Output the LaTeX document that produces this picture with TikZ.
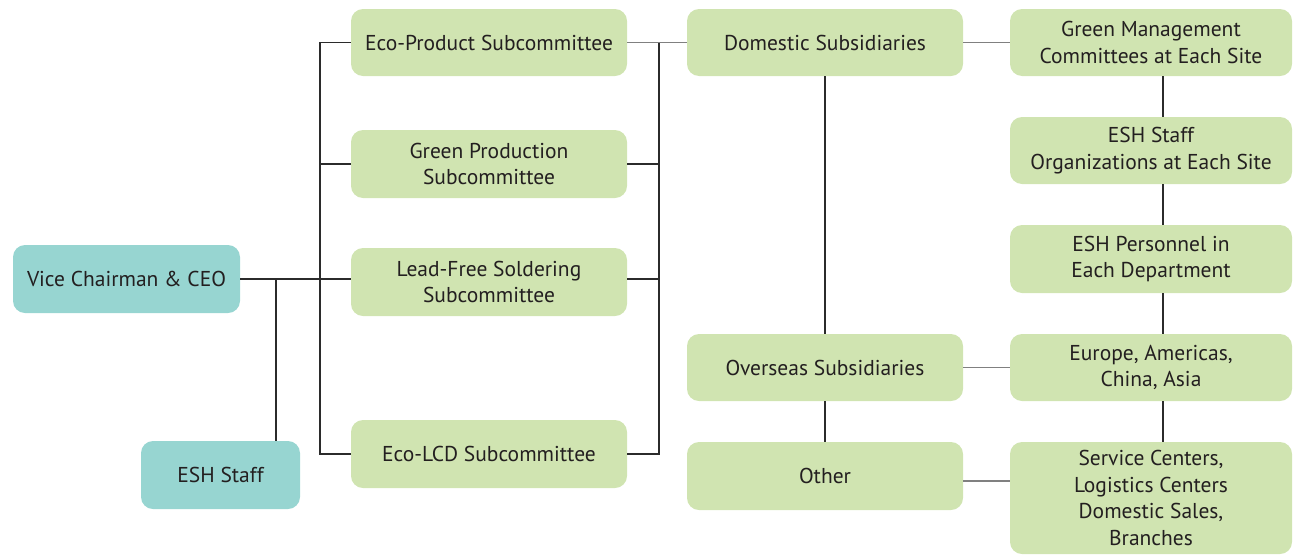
\documentclass[tikz,border=0pt]{standalone}
\usepackage{fontspec}
\setmainfont{PT Sans}
\definecolor{teal}{HTML}{97D5D1}
\definecolor{lgreen}{HTML}{D0E4B1}
\definecolor{txt}{HTML}{231F20}
\definecolor{ln}{HTML}{2B2B2B}
\definecolor{lg}{HTML}{808080}
\tikzset{
  box/.style={rounded corners=12pt, inner sep=2pt, align=center, text=txt,
    font=\fontsize{21.5}{26.5}\selectfont},
  gbox/.style={box, fill=lgreen},
  tbox/.style={box, fill=teal},
  conn/.style={draw=ln, line width=1.1pt},
  connl/.style={draw=lg, line width=1.3pt},
}
\begin{document}
\begin{tikzpicture}[x=1pt,y=-1pt]
\useasboundingbox (0,0) rectangle (1293,555);
% left
\node[tbox, minimum width=227pt, minimum height=68pt] (ceo) at (126.5,279) {Vice Chairman \& CEO};
\node[tbox, minimum width=159pt, minimum height=68pt] (eshs) at (220.5,475) {ESH Staff};
% subcommittees
\node[gbox, minimum width=276pt, minimum height=67pt] (eco) at (489,42.5) {Eco-Product Subcommittee};
\node[gbox, minimum width=276pt, minimum height=68pt] (gp) at (489,164) {Green Production\\Subcommittee};
\node[gbox, minimum width=276pt, minimum height=68pt] (lead) at (489,282) {Lead-Free Soldering\\Subcommittee};
\node[gbox, minimum width=276pt, minimum height=68pt] (lcd) at (489,454) {Eco-LCD Subcommittee};
% subsidiaries
\node[gbox, minimum width=276pt, minimum height=67pt] (dom) at (825,42.5) {Domestic Subsidiaries};
\node[gbox, minimum width=276pt, minimum height=67pt] (ovs) at (825,367.5) {Overseas Subsidiaries};
\node[gbox, minimum width=276pt, minimum height=68pt] (oth) at (825,476) {Other};
% right column
\node[gbox, minimum width=282pt, minimum height=67pt] (gmc) at (1151,42.5) {Green Management\\Committees at Each Site};
\node[gbox, minimum width=282pt, minimum height=67pt] (eso) at (1151,150.5) {ESH Staff\\Organizations at Each Site};
\node[gbox, minimum width=282pt, minimum height=68pt] (esp) at (1151,259) {ESH Personnel in\\Each Department};
\node[gbox, minimum width=282pt, minimum height=67pt] (eur) at (1151,367.5) {Europe, Americas,\\China, Asia};
\node[gbox, minimum width=282pt, minimum height=112pt] (svc) at (1151,498) {Service Centers,\\Logistics Centers\\Domestic Sales,\\Branches};
% connector coordinates
\coordinate (j1) at (276,279);
\coordinate (bl) at (320,279);
\coordinate (br) at (659,279);
\coordinate (cr) at (1163,0);
% CEO links
\draw[conn] (ceo.east |- j1) -- (lead.west |- j1);
\draw[conn] (j1) -- (j1 |- eshs.north);
% left bus
\draw[conn] (eco.west) -- (eco.west -| bl) -- (lcd.west -| bl) -- (lcd.west);
\draw[conn] (gp.west) -- (gp.west -| bl);
% right bus
\draw[connl] (eco.east) -- (dom.west);
\draw[conn] (eco.east -| br) -- (lcd.east -| br) -- (lcd.east);
\draw[conn] (gp.east) -- (gp.east -| br);
\draw[conn] (lead.east |- j1) -- (br);
% subsidiaries vertical
\draw[conn] (dom.south) -- (ovs.north);
\draw[conn] (ovs.south) -- (oth.north);
% to right column
\draw[connl] (dom.east) -- (gmc.west);
\draw[connl] (ovs.east) -- (eur.west);
\coordinate (oy) at (963,481);
\draw[connl] (oy) -- (oy -| svc.west);
% right column vertical
\draw[conn] (gmc.south -| cr) -- (eso.north -| cr);
\draw[conn] (eso.south -| cr) -- (esp.north -| cr);
\draw[conn] (esp.south -| cr) -- (eur.north -| cr);
\draw[conn] (eur.south -| cr) -- (svc.north -| cr);
\end{tikzpicture}
\end{document}
